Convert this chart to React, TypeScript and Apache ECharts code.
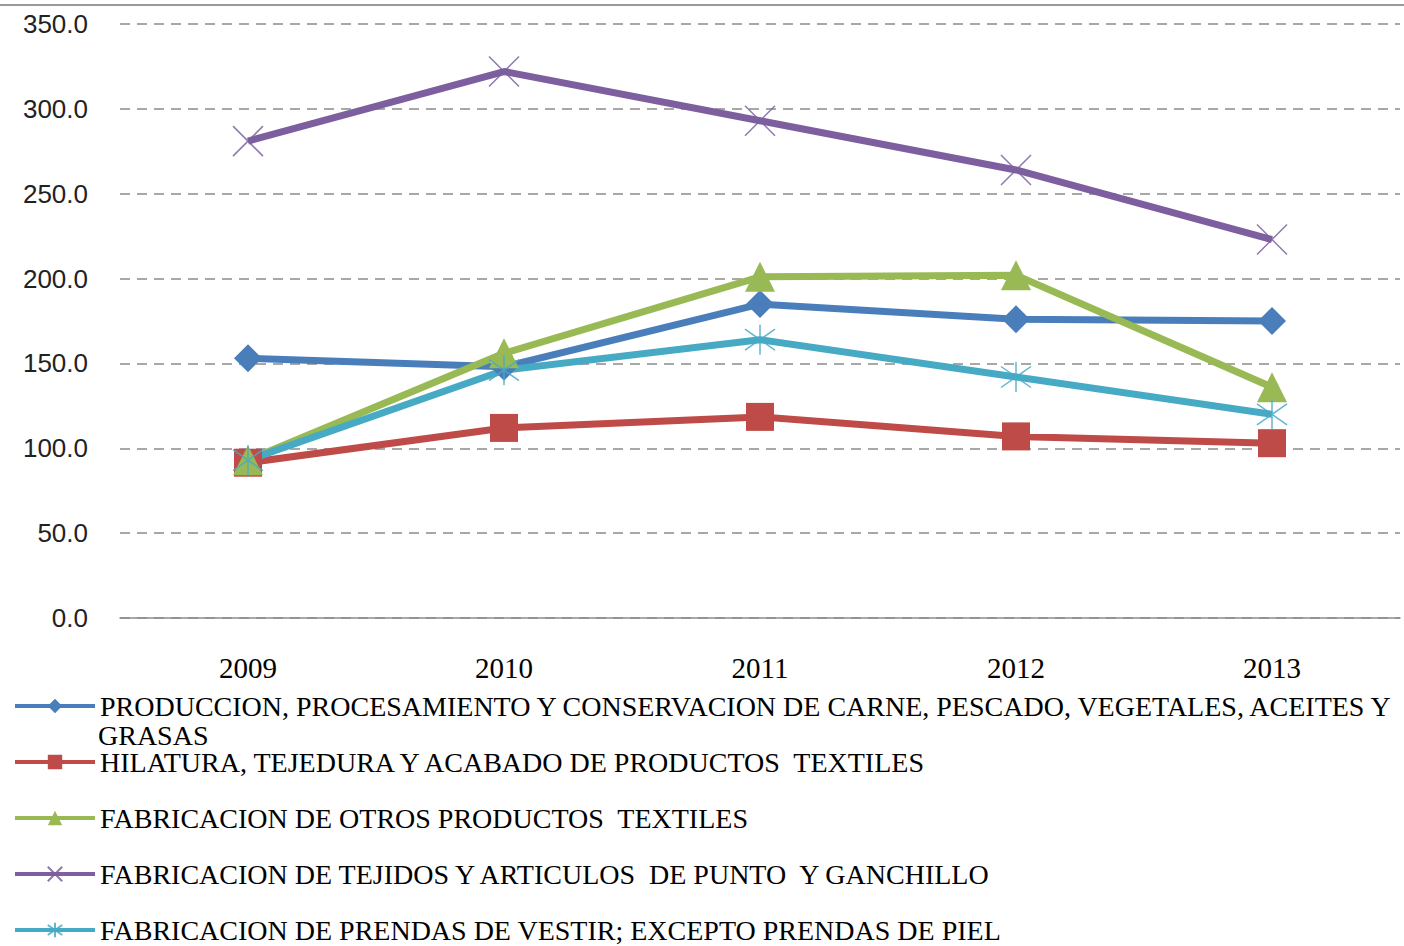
import React, { useEffect, useRef } from "react";
import * as echarts from "echarts";

const years = ["2009", "2010", "2011", "2012", "2013"];
const yTicks = [0, 50, 100, 150, 200, 250, 300, 350];

const nameCarne = "PRODUCCION, PROCESAMIENTO Y CONSERVACION DE CARNE, PESCADO, VEGETALES, ACEITES Y GRASAS";
const nameHilatura = "HILATURA, TEJEDURA Y ACABADO DE PRODUCTOS  TEXTILES";
const nameOtros = "FABRICACION DE OTROS PRODUCTOS  TEXTILES";
const nameTejidos = "FABRICACION DE TEJIDOS Y ARTICULOS  DE PUNTO  Y GANCHILLO";
const namePrendas = "FABRICACION DE PRENDAS DE VESTIR; EXCEPTO PRENDAS DE PIEL";

const carne = [153, 148, 185, 176, 175];
const hilatura = [91.5, 112, 118.5, 107, 103];
const otros = [93, 156, 201, 202, 136];
const tejidos = [281, 322, 293, 264, 223];
const prendas = [93, 146, 164, 142, 120];

const crossPath = "path://M0,0L10,10M0,10L10,0";
const starPath = "path://M0.5,1.5L9.5,8.5M0.5,8.5L9.5,1.5M5,0L5,10";

const legendFont = 28;

export default function App() {
  const ref = useRef<HTMLDivElement>(null);
  useEffect(() => {
    document.body.style.margin = "0";
    const chart = echarts.init(ref.current!, undefined, { renderer: "svg" });
    const mk = (name: string, data: number[], color: string, symbol: string, size: number, stroke = false) => ({
      name,
      type: "line",
      data,
      symbol,
      symbolSize: size,
      showSymbol: true,
      lineStyle: { color, width: 7 },
      itemStyle: stroke
        ? { color, borderColor: color, borderWidth: 1.5, opacity: 0.85 }
        : { color },
      emphasis: { disabled: true },
    });
    chart.setOption({
      animation: false,
      textStyle: { fontFamily: "Liberation Serif" },
      grid: { left: 120, right: 4, top: 24, bottom: 328, containLabel: false },
      xAxis: {
        type: "category",
        data: years,
        boundaryGap: true,
        axisLine: { show: true, lineStyle: { color: "#8c8c8c", width: 1.5 } },
        axisTick: { show: false },
        axisLabel: { color: "#000", fontFamily: "Liberation Serif", fontSize: 29, margin: 35 },
      },
      yAxis: {
        type: "value",
        min: yTicks[0],
        max: yTicks[yTicks.length - 1],
        interval: 50,
        axisLine: { show: false },
        axisTick: { show: false },
        axisLabel: {
          color: "#222",
          fontFamily: "Liberation Sans",
          fontSize: 26,
          margin: 32,
          formatter: (v: number) => v.toFixed(1),
        },
        splitLine: { lineStyle: { color: "#8c8c8c", width: 1.5, type: [10, 7] } },
      },
      legend: {
        orient: "vertical",
        left: 8,
        top: 687,
        height: 320,
        itemWidth: 80,
        itemHeight: 18,
        itemGap: 28,
        lineStyle: { width: 4 },
        textStyle: { color: "#000", fontFamily: "Liberation Serif", fontSize: legendFont, lineHeight: 26 },
        formatter: (n: string) => (n === nameCarne ? "PRODUCCION, PROCESAMIENTO Y CONSERVACION DE CARNE, PESCADO, VEGETALES, ACEITES Y" : n),
        data: [nameCarne, nameHilatura, nameOtros, nameTejidos, namePrendas],
      },
      graphic: [
        { type: "line", shape: { x1: 0, y1: 5, x2: 1404, y2: 5 }, style: { stroke: "#9a9a9a", lineWidth: 2 } },
        {
          type: "text",
          x: 98,
          y: 735,
          style: { text: "GRASAS", font: `${legendFont}px 'Liberation Serif'`, fill: "#000", verticalAlign: "middle", lineHeight: 24 },
        },
      ],
      series: [
        mk(nameCarne, carne, "#4a7ebb", "diamond", 28),
        mk(nameHilatura, hilatura, "#be4b48", "rect", 28),
        mk(nameOtros, otros, "#98b954", "triangle", 30),
        mk(nameTejidos, tejidos, "#7d5fa0", crossPath, 30, true),
        mk(namePrendas, prendas, "#46aac5", starPath, 30, true),
      ],
    });
    return () => chart.dispose();
  }, []);
  return <div ref={ref} style={{ width: 1404, height: 946 }} />;
}
